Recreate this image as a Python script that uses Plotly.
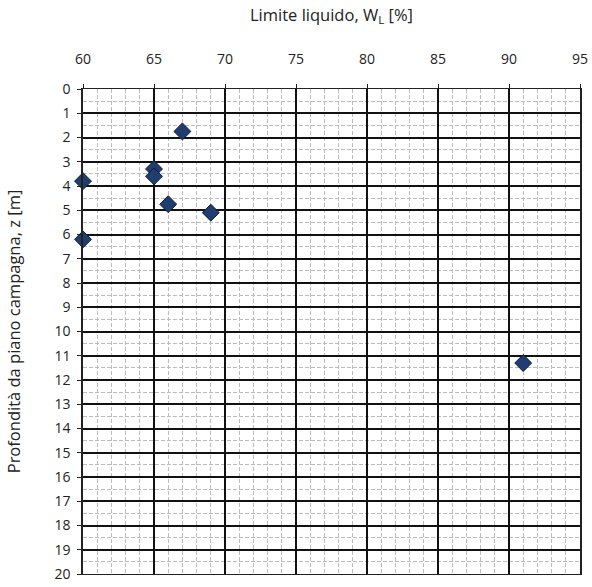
import plotly.graph_objects as go

# Liquid limit measurements vs depth
limite_liquido = [67, 65, 65, 60, 66, 69, 60, 91]
profondita = [1.75, 3.3, 3.6, 3.8, 4.75, 5.1, 6.2, 11.3]

x_ticks = [60, 65, 70, 75, 80, 85, 90, 95]
y_ticks = list(range(0, 21))

font_family = "Open Sans, sans-serif"

fig = go.Figure()
fig.add_trace(go.Scatter(
    x=limite_liquido,
    y=profondita,
    mode="markers",
    marker=dict(symbol="diamond", size=13, color="#1f3d6e",
                line=dict(color="#0d1a33", width=1)),
    showlegend=False,
    cliponaxis=False,
))

fig.update_layout(
    width=592, height=587,
    margin=dict(l=83, r=12, t=89, b=13, autoexpand=False),
    paper_bgcolor="white",
    plot_bgcolor="white",
    font=dict(family=font_family, size=14, color="#222"),
    annotations=[
        dict(text="Limite liquido, W<sub>L</sub> [%]", x=0.5, y=1.0,
             xref="paper", yref="paper", yanchor="middle", yshift=74,
             showarrow=False, font=dict(size=16.5)),
    ],
)

fig.update_xaxes(
    side="top", range=[60, 95], tickvals=x_ticks,
    ticks="outside", ticklen=4, tickcolor="#222",
    ticklabelstandoff=14, automargin=False,
    showgrid=True, gridcolor="#111", gridwidth=1.5,
    minor=dict(dtick=1, showgrid=True, gridcolor="#bcbcbc",
               griddash="4px,2px", gridwidth=1),
    showline=True, linecolor="#222", linewidth=1, mirror=True,
    zeroline=False, tickfont=dict(size=14),
)
fig.update_yaxes(
    range=[20, 0], tickvals=y_ticks,
    ticks="outside", ticklen=4, tickcolor="#222",
    ticklabelstandoff=4, automargin=False,
    showgrid=True, gridcolor="#111", gridwidth=1.5,
    minor=dict(dtick=0.5, showgrid=True, gridcolor="#bcbcbc",
               griddash="4px,2px", gridwidth=1),
    showline=True, linecolor="#222", linewidth=1.5, mirror=True,
    zeroline=False, tickfont=dict(size=14),
    title=dict(text="Profondità da piano campagna, z [m]",
               font=dict(size=16.5), standoff=30),
)

fig.write_html("out.html")
